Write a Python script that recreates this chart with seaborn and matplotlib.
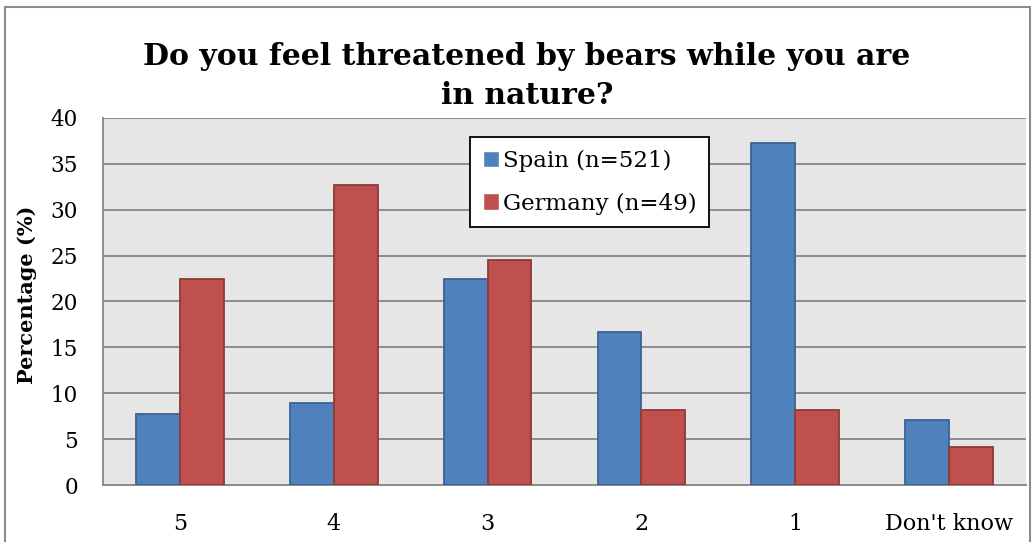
import pandas as pd
import matplotlib.pyplot as plt
import matplotlib.patches as mpatches
import seaborn as sns

# --- data ---
categories = ['5', '4', '3', '2', '1', "Don't know"]
spain = [7.7, 8.9, 22.5, 16.7, 37.3, 7.1]
germany = [22.5, 32.7, 24.5, 8.2, 8.2, 4.1]
series_names = ['Spain (n=521)', 'Germany (n=49)']
colors = ['#4F81BD', '#C0504D']
edge_colors = ['#3A6394', '#8E3A38']
y_ticks = [0, 5, 10, 15, 20, 25, 30, 35, 40]

df = pd.DataFrame({
    'Answer': categories * 2,
    'Percentage': spain + germany,
    'Country': [series_names[0]] * len(categories) + [series_names[1]] * len(categories),
})

sns.set_style('white')
plt.rcParams['font.family'] = ['DejaVu Serif']
plt.rcParams['text.color'] = 'black'
plt.rcParams['axes.labelcolor'] = 'black'

fig = plt.figure(figsize=(10.36, 5.42), dpi=100)
ax = fig.add_axes([103 / 1036, 1 - 485 / 542, 923 / 1036, 367 / 542])

sns.barplot(data=df, x='Answer', y='Percentage', hue='Country', order=categories,
            hue_order=series_names, palette=colors, width=0.57, gap=0,
            saturation=1, ax=ax, zorder=3)

# bar outlines per series
for bars, ec in zip(ax.containers, edge_colors):
    for b in bars:
        b.set_edgecolor(ec)
        b.set_linewidth(1.3)

ax.set_facecolor('#E6E6E6')
ax.set_ylim(0, 40)
ax.set_xlim(-0.5, len(categories) - 0.5)
ax.set_yticks(y_ticks)
ax.yaxis.grid(True, color='#8C8C8C', linewidth=1.4, zorder=0)
ax.set_axisbelow(True)

# x ticks sit on the category boundaries, labels at the centres
ax.set_xticks([i - 0.5 for i in range(len(categories) + 1)])
ax.set_xticklabels([])
ax.set_xticks(range(len(categories)), minor=True)
ax.set_xticklabels(categories, minor=True, fontsize=16)
ax.tick_params(axis='x', which='minor', length=0, pad=20, labelcolor='black')
ax.tick_params(axis='x', which='major', length=7, width=1.4, color='#8C8C8C')
ax.tick_params(axis='y', length=6, width=1.4, color='#8C8C8C', labelsize=15.5, pad=12,
               labelcolor='black')

for side in ['top', 'right']:
    ax.spines[side].set_visible(False)
for side in ['left', 'bottom']:
    ax.spines[side].set_color('#8C8C8C')
    ax.spines[side].set_linewidth(1.4)

ax.set_xlabel('')
ax.set_ylabel('Percentage (%)', fontsize=15, fontweight='bold')
ax.yaxis.set_label_coords(-0.0825, 0.518)
ax.yaxis.label.set_va('center')

leg = ax.legend(loc='upper left', bbox_to_anchor=(0.3976, 0.948), fontsize=16.5,
                frameon=True, fancybox=False, edgecolor='black', framealpha=1,
                handlelength=0.7, handleheight=0.7, handletextpad=0.2,
                labelspacing=0.9, borderpad=0.55, borderaxespad=0)
leg.get_frame().set_linewidth(1.3)

fig.text(527 / 1036, 1 - 76 / 542, 'Do you feel threatened by bears while you are\nin nature?',
         ha='center', va='center', fontsize=21.5, fontweight='bold', linespacing=1.4)

# outer chart border
fig.patches.append(mpatches.Rectangle((5 / 1036, -0.01), 1025 / 1036, 1 - 7 / 542 + 0.01,
                                      transform=fig.transFigure, fill=False,
                                      edgecolor='#8C8C8C', linewidth=1.5))

plt.savefig('out.png', dpi=100)
